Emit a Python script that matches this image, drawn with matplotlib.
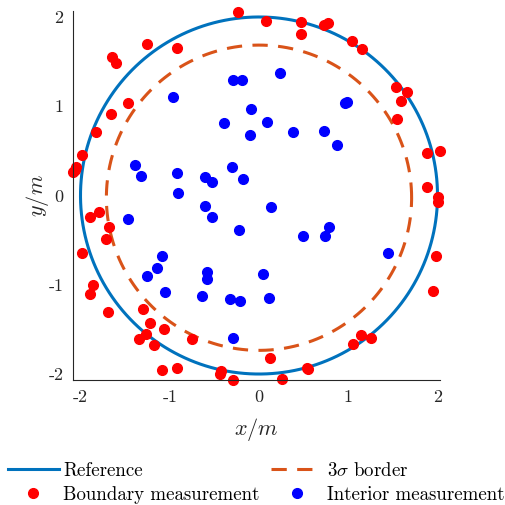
import matplotlib
matplotlib.use('Agg')
import matplotlib.pyplot as plt
import numpy as np

plt.rcParams['font.family'] = ['cmr10']
plt.rcParams['mathtext.fontset'] = 'cm'
plt.rcParams['axes.unicode_minus'] = False

# 边界测量点
bnd_x = [-0.232, 0.075, 0.467, 0.467, 0.728, 0.770, 1.042, 1.157, -1.258, -0.915,
         -1.644, -1.602, -1.471, -1.658, -1.826, -1.980, -2.050, -2.081, -2.062,
         1.535, 1.658, 1.594, 1.543, 1.886, 2.028, 1.879, 2.002, 2.002, 1.983, 1.946,
         -1.894, -1.789, -1.677, -1.714, -1.980, -1.857, -1.894, -1.689, -1.303, -1.221,
         -1.064, -1.266, -1.345, -1.176, -0.754, -1.090, -0.919, -0.422, -0.437, -0.291,
         0.120, 0.261, 0.534, 0.549, 1.050, 1.139, 1.258]
bnd_y = [2.059, 1.958, 1.947, 1.810, 1.910, 1.936, 1.734, 1.645, 1.697, 1.649,
         1.548, 1.488, 1.036, 0.913, 0.708, 0.450, 0.323, 0.260, 0.286,
         1.219, 1.156, 1.055, 0.854, 0.473, 0.502, 0.099, -0.020, -0.069, -0.678, -1.070,
         -0.244, -0.185, -0.350, -0.487, -0.641, -1.003, -1.100, -1.305, -1.272, -1.432,
         -1.492, -1.552, -1.608, -1.672, -1.604, -1.955, -1.929, -1.963, -2.000, -2.071,
         -1.824, -2.059, -1.936, -1.944, -1.667, -1.563, -1.600]

# 内部测量点
int_x = [-0.960, -0.288, -0.194, -0.093, -0.392, -0.101, 0.090, 0.235, -1.393, -1.322,
         -0.919, -0.608, -0.530, -0.306, -0.183, -0.908, 0.964, 0.989, 0.384, 0.728,
         0.874, -0.605, -0.530, 0.134, -1.471, -0.224, -1.090, -1.146, -1.258, -0.586,
         -0.586, 0.048, -1.053, -0.639, -0.325, -0.213, 0.109, -0.291, 0.496, 0.739,
         0.784, 1.449]
int_y = [1.100, 1.294, 1.294, 0.969, 0.816, 0.678, 0.820, 1.376, 0.345, 0.222,
         0.249, 0.211, 0.155, 0.316, 0.188, 0.031, 1.040, 1.051, 0.708, 0.719,
         0.566, -0.118, -0.244, -0.132, -0.263, -0.387, -0.678, -0.809, -0.902, -0.854,
         -0.939, -0.880, -1.081, -1.123, -1.163, -1.182, -1.152, -1.593, -0.454, -0.450,
         -0.353, -0.641]

ref_r = 2.0
sig_center = (0.0, -0.025)
sig_r = 1.71

fig = plt.figure(figsize=(5.06, 5.05), dpi=100)
ax = fig.add_axes([73 / 506, 1 - 380 / 505, 367 / 506, 369 / 505])

# 参考圆与3sigma边界
t = np.linspace(0, 2 * np.pi, 400)
ax.plot(ref_r * np.cos(t), ref_r * np.sin(t), color='#0072BD', lw=2.2, label='Reference')
ax.plot(sig_center[0] + sig_r * np.cos(t), sig_center[1] + sig_r * np.sin(t),
        color='#D95319', lw=2.2, dashes=[5, 3.4], label=r'$3\sigma$ border')
ax.plot(bnd_x, bnd_y, 'o', color='#FF0000', ms=7, ls='none', clip_on=False,
        label='Boundary measurement')
ax.plot(int_x, int_y, 'o', color='#0000FF', ms=7, ls='none', clip_on=False,
        label='Interior measurement')

ax.set_xlim(-2.084, 2.028)
ax.set_ylim(-2.067, 2.067)
ax.set_xticks([-2, -1, 0, 1, 2])
ax.set_yticks([-2, -1, 0, 1, 2])
for s in ['top', 'right']:
    ax.spines[s].set_visible(False)
for s in ['left', 'bottom']:
    ax.spines[s].set_color('#262626')
    ax.spines[s].set_linewidth(0.8)
ax.tick_params(length=0, labelsize=13, colors='#262626', pad=7)
ax.set_xlabel(r'$x/m$', fontsize=16, color='#262626', labelpad=8)
ax.set_ylabel(r'$y/m$', fontsize=16, color='#262626', labelpad=-2)

h, l = ax.get_legend_handles_labels()
order = [0, 2, 1, 3]
fig.legend([h[i] for i in order], [l[i] for i in order], ncol=2, loc='upper center',
           bbox_to_anchor=(0.506, 0.100), borderaxespad=0, frameon=False, fontsize=13.6,
           handlelength=2.7, columnspacing=0.6, handletextpad=0.25, labelspacing=0.3)

fig.savefig('out.png', dpi=100)
